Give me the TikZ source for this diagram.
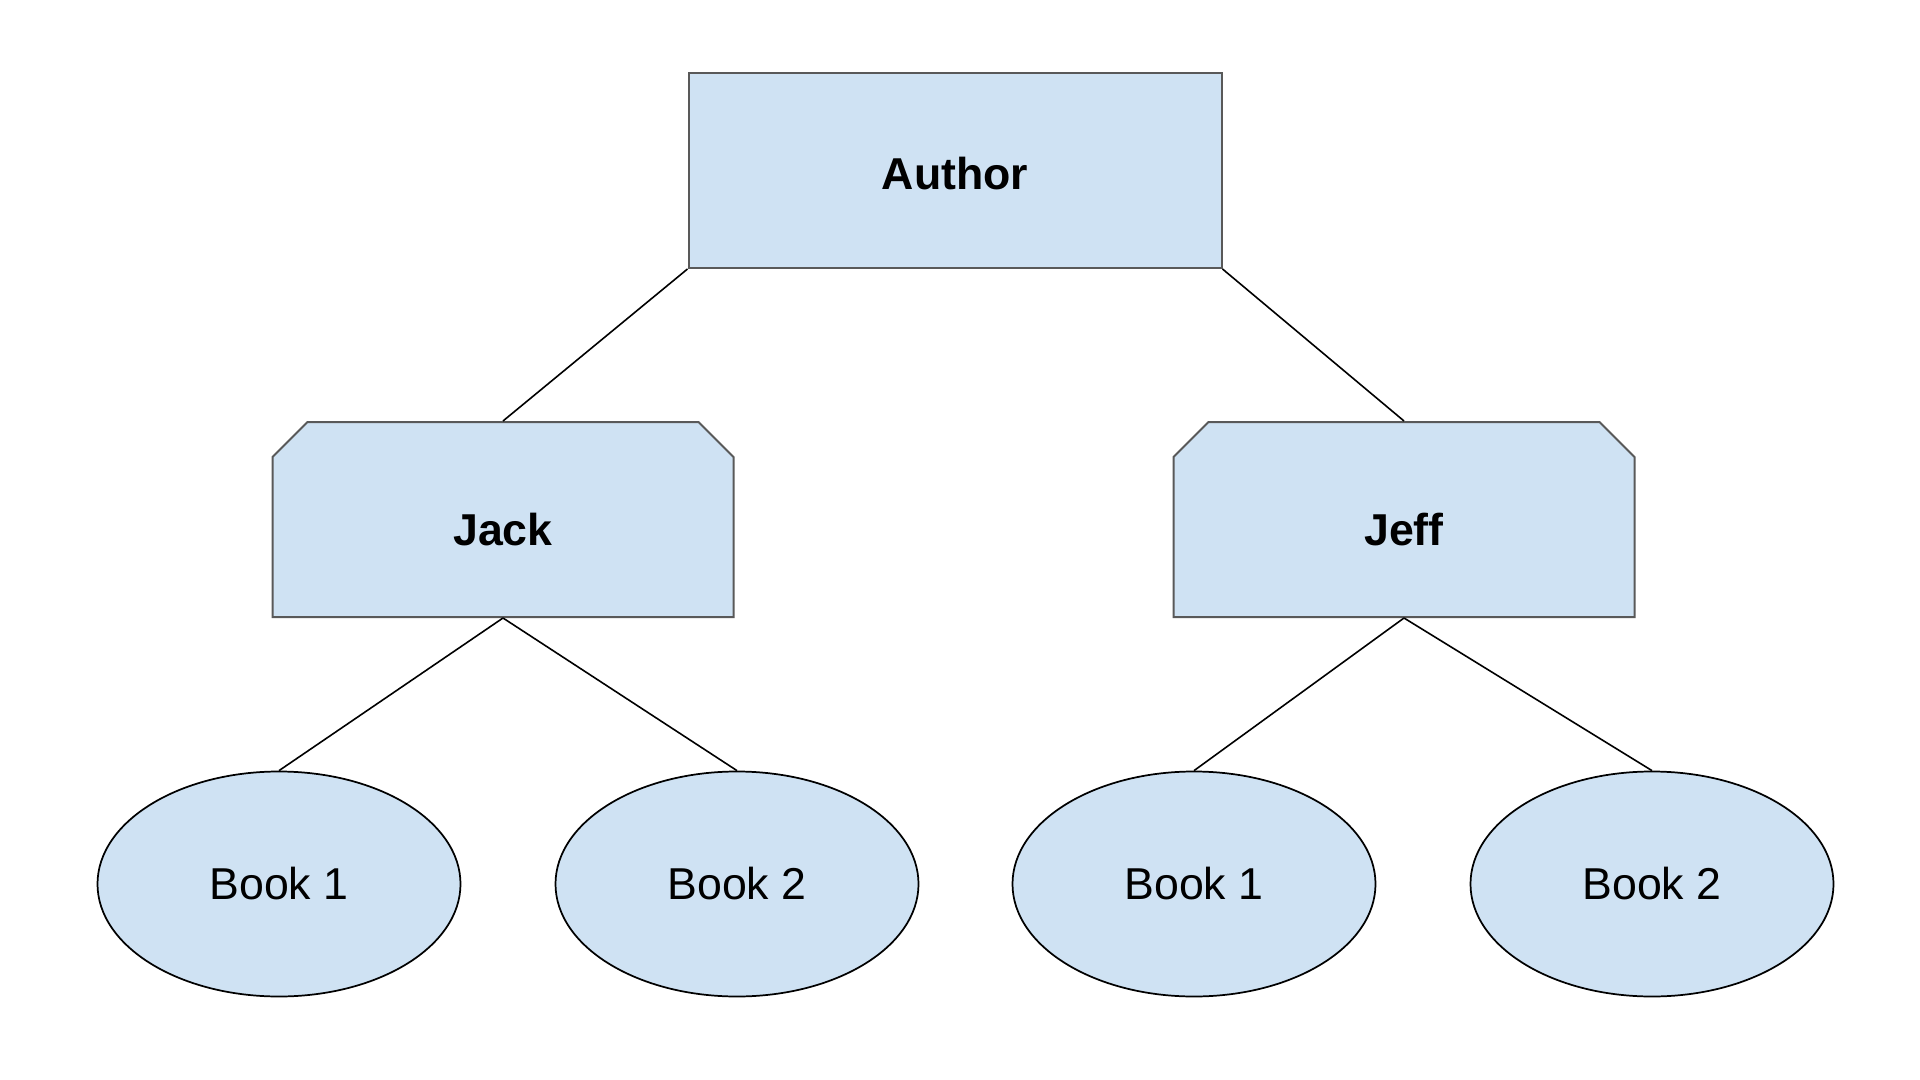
\documentclass[tikz,border=0pt]{standalone}
\usepackage{fontspec}
\setmainfont{Liberation Sans}
\usetikzlibrary{shapes.misc,shapes.geometric}

\tikzset{every picture/.style={line width=0.75pt}}
\definecolor{boxblue}{RGB}{207,226,243}
\definecolor{boxgray}{RGB}{89,89,89}
\newcommand{\lowtext}[2]{\raisebox{-#1}[\height][\depth]{#2}}
\tikzset{
  authorbox/.style={rectangle,draw=boxgray,fill=boxblue,line width=1.5pt,minimum width=399.75pt,minimum height=146.25pt,inner sep=0pt,font=\fontsize{33.5}{40}\selectfont\bfseries},
  namebox/.style={chamfered rectangle,chamfered rectangle corners={north west,north east},chamfered rectangle xsep=14pt,chamfered rectangle ysep=14pt,draw=boxgray,fill=boxblue,line width=1.5pt,minimum width=345.75pt,minimum height=146.25pt,inner sep=0pt,font=\fontsize{33.5}{40}\selectfont\bfseries},
  bookoval/.style={ellipse,draw=black,fill=boxblue,line width=1.3pt,minimum width=272.25pt,minimum height=168.75pt,inner sep=0pt,font=\fontsize{33.5}{40}\selectfont},
  link/.style={draw=black,line width=1.2pt}
}

\begin{document}
\begin{tikzpicture}[x=0.75pt,y=0.75pt,yscale=-1,xscale=1]
        %set diagram left start at 0, and has height of 1080
        \useasboundingbox (0,0) rectangle (1920,1080);
        %Shape: Rectangle
        \node [authorbox] (author) at (955,170.5) {\lowtext{2pt}{Author}};
        %Shape: Chamfered Rectangle
        \node [namebox] (jack) at (503,519.5) {\lowtext{7.5pt}{Jack}};
        \node [namebox] (jeff) at (1404,519.5) {\lowtext{7.5pt}{Jeff}};
        %Shape: Ellipse
        \node [bookoval] (jackone) at (279,884) {Book 1};
        \node [bookoval] (jacktwo) at (737,884) {Book 2};
        \node [bookoval] (jeffone) at (1194,884) {Book 1};
        \node [bookoval] (jefftwo) at (1652,884) {Book 2};

        %Straight Lines
        \draw [link] (author.south west) -- (jack.north);
        \draw [link] (author.south east) -- (jeff.north);
        \draw [link] (jack.south) -- (jackone.north);
        \draw [link] (jack.south) -- (jacktwo.north);
        \draw [link] (jeff.south) -- (jeffone.north);
        \draw [link] (jeff.south) -- (jefftwo.north);
\end{tikzpicture}
\end{document}
